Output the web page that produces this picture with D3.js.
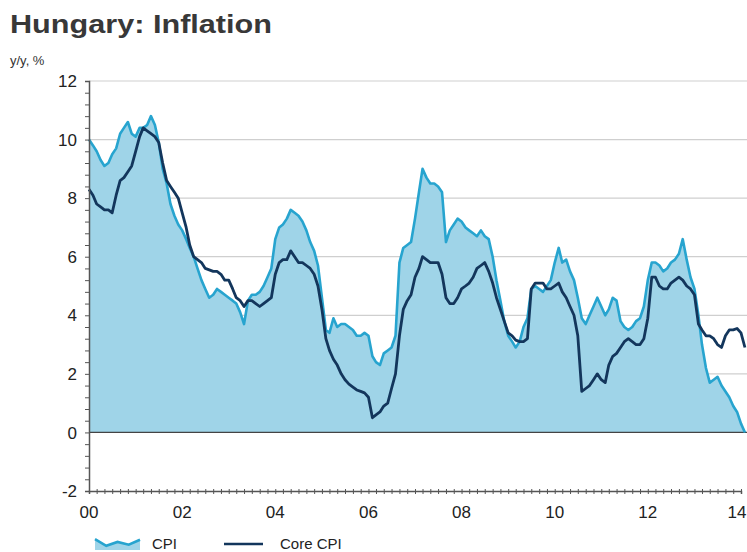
<!DOCTYPE html>
<html>
<head>
<meta charset="utf-8">
<script src="https://cdn.jsdelivr.net/npm/d3@7"></script>
<style>
  html, body { margin: 0; padding: 0; background: #fff; }
  svg { display: block; font-family: "Liberation Sans", Arial, sans-serif; }
</style>
</head>
<body>
<svg id="chart" width="747" height="552"></svg>
<script>
// Monthly year-on-year inflation, Jan 2000 – Feb 2014 (%)
const startYear = 2000;
const cpi = [
  10.0, 9.8, 9.6, 9.3, 9.1, 9.2, 9.5, 9.7, 10.2, 10.4, 10.6, 10.2,   // 2000
  10.1, 10.4, 10.4, 10.5, 10.8, 10.5, 9.9, 9.0, 8.5, 7.8, 7.4, 7.1,   // 2001
  6.9, 6.6, 6.3, 6.0, 5.6, 5.2, 4.9, 4.6, 4.7, 4.9, 4.8, 4.7,         // 2002
  4.6, 4.5, 4.4, 4.1, 3.7, 4.5, 4.7, 4.7, 4.8, 5.0, 5.3, 5.6,         // 2003
  6.6, 7.0, 7.1, 7.3, 7.6, 7.5, 7.4, 7.2, 6.9, 6.5, 6.2, 5.7,         // 2004
  4.6, 3.5, 3.4, 3.9, 3.6, 3.7, 3.7, 3.6, 3.5, 3.3, 3.3, 3.4,         // 2005
  3.3, 2.6, 2.4, 2.3, 2.7, 2.8, 2.9, 3.3, 5.8, 6.3, 6.4, 6.5,         // 2006
  7.3, 8.2, 9.0, 8.7, 8.5, 8.5, 8.4, 8.2, 6.5, 6.9, 7.1, 7.3,         // 2007
  7.2, 7.0, 6.9, 6.8, 6.7, 6.9, 6.7, 6.6, 6.0, 5.2, 4.5, 3.8,         // 2008
  3.3, 3.1, 2.9, 3.1, 3.6, 3.9, 4.9, 5.0, 4.9, 4.8, 5.0, 5.2,         // 2009
  5.8, 6.3, 5.8, 5.9, 5.5, 5.2, 4.6, 3.9, 3.7, 4.0, 4.3, 4.6,         // 2010
  4.3, 4.0, 4.2, 4.6, 4.5, 3.8, 3.6, 3.5, 3.6, 3.8, 3.9, 4.3,         // 2011
  5.2, 5.8, 5.8, 5.7, 5.5, 5.6, 5.8, 5.9, 6.1, 6.6, 5.9, 5.3,         // 2012
  4.9, 4.0, 3.0, 2.2, 1.7, 1.8, 1.9, 1.6, 1.4, 1.2, 0.9, 0.7,         // 2013
  0.3, 0.0                                                            // 2014
];
const coreCpi = [
  8.3, 8.1, 7.8, 7.7, 7.6, 7.6, 7.5, 8.1, 8.6, 8.7, 8.9, 9.1,         // 2000
  9.6, 10.1, 10.4, 10.3, 10.2, 10.1, 9.9, 9.2, 8.6, 8.4, 8.2, 8.0,    // 2001
  7.5, 7.0, 6.4, 6.0, 5.9, 5.8, 5.6, 5.55, 5.5, 5.5, 5.4, 5.2,        // 2002
  5.2, 4.9, 4.6, 4.5, 4.3, 4.5, 4.5, 4.4, 4.3, 4.4, 4.5, 4.6,         // 2003
  5.4, 5.8, 5.9, 5.9, 6.2, 6.0, 5.8, 5.8, 5.7, 5.6, 5.4, 5.0,         // 2004
  4.2, 3.2, 2.8, 2.5, 2.3, 2.0, 1.8, 1.65, 1.55, 1.45, 1.4, 1.35,     // 2005
  1.2, 0.5, 0.6, 0.7, 0.9, 1.0, 1.5, 2.0, 3.3, 4.2, 4.5, 4.7,         // 2006
  5.3, 5.6, 6.0, 5.9, 5.8, 5.8, 5.8, 5.4, 4.6, 4.4, 4.4, 4.6,         // 2007
  4.9, 5.0, 5.1, 5.3, 5.6, 5.7, 5.8, 5.5, 5.1, 4.6, 4.2, 3.8,         // 2008
  3.4, 3.3, 3.15, 3.1, 3.1, 3.2, 4.9, 5.1, 5.1, 5.1, 4.9, 4.9,        // 2009
  5.0, 5.1, 4.8, 4.6, 4.3, 4.0, 3.3, 1.4, 1.5, 1.6, 1.8, 2.0,         // 2010
  1.8, 1.7, 2.3, 2.6, 2.7, 2.9, 3.1, 3.2, 3.1, 3.0, 3.0, 3.2,         // 2011
  3.9, 5.3, 5.3, 5.0, 4.9, 4.9, 5.1, 5.2, 5.3, 5.2, 5.0, 4.9,         // 2012
  4.7, 3.7, 3.5, 3.3, 3.3, 3.2, 3.0, 2.9, 3.3, 3.5, 3.5, 3.55,        // 2013
  3.4, 2.9                                                            // 2014
];
const yTicks = [-2, 0, 2, 4, 6, 8, 10, 12];
const xTickYears = [2000, 2002, 2004, 2006, 2008, 2010, 2012, 2014];
const seriesNames = ["CPI", "Core CPI"];

const colors = {
  fill: "#9fd4e8",
  cpi: "#27a4cf",
  core: "#13365c",
  grid: "#cfcfcf",
  axis: "#555",
  text: "#222"
};

const svg = d3.select("#chart");
const W = 747;

const x = d3.scaleTime()
  .domain([new Date(2000, 0, 1), new Date(2014, 0, 1)])
  .range([89, 741]);
const y = d3.scaleLinear().domain([-2, 12]).range([491, 81]);

const rows = cpi.map((v, i) => ({
  date: new Date(startYear, i, 1),
  cpi: v,
  core: coreCpi[i]
}));

// Title and unit
svg.append("text")
  .attr("x", 10).attr("y", 33)
  .attr("font-size", 25).attr("font-weight", "bold")
  .attr("fill", "#383838")
  .attr("textLength", 262).attr("lengthAdjust", "spacingAndGlyphs")
  .text("Hungary: Inflation");
svg.append("text")
  .attr("x", 10).attr("y", 65)
  .attr("font-size", 13).attr("fill", "#333")
  .text("y/y, %");

// Horizontal grid
svg.append("g").selectAll("line")
  .data(yTicks.filter(t => t !== -2 && t !== 0))
  .join("line")
  .attr("x1", 89).attr("x2", W)
  .attr("y1", d => y(d)).attr("y2", d => y(d))
  .attr("stroke", colors.grid).attr("stroke-width", 1.2);

// CPI area down to zero
const area = d3.area()
  .x(d => x(d.date))
  .y0(y(0))
  .y1(d => y(d.cpi));
svg.append("path").datum(rows)
  .attr("d", area)
  .attr("fill", colors.fill);

// Zero line
svg.append("line")
  .attr("x1", 89).attr("x2", W)
  .attr("y1", y(0)).attr("y2", y(0))
  .attr("stroke", "#444").attr("stroke-width", 1.3);

const lineCpi = d3.line().x(d => x(d.date)).y(d => y(d.cpi));
const lineCore = d3.line().x(d => x(d.date)).y(d => y(d.core));

svg.append("path").datum(rows)
  .attr("d", lineCpi)
  .attr("fill", "none").attr("stroke", colors.cpi)
  .attr("stroke-width", 2.6).attr("stroke-linejoin", "round");
svg.append("path").datum(rows)
  .attr("d", lineCore)
  .attr("fill", "none").attr("stroke", colors.core)
  .attr("stroke-width", 2.8).attr("stroke-linejoin", "round");

// Left axis with minor ticks
const yMinor = d3.range(-2, 12.001, 0.4);
const yAxis = d3.axisLeft(y)
  .tickValues(yMinor)
  .tickSize(4)
  .tickFormat("");
const gy = svg.append("g").attr("transform", "translate(89,0)").call(yAxis);
gy.select(".domain").attr("stroke", colors.axis).attr("stroke-width", 1.5);
gy.selectAll(".tick line").attr("stroke", colors.axis);

svg.append("g").selectAll("text")
  .data(yTicks)
  .join("text")
  .attr("x", 77).attr("y", d => y(d))
  .attr("dy", "0.36em")
  .attr("text-anchor", "end")
  .attr("font-size", 17).attr("fill", colors.text)
  .text(d => d);

// Bottom axis: minor ticks every two months, labelled every two years
const xMinor = d3.timeMonth.every(2).range(new Date(2000, 0, 1), new Date(2014, 3, 1));
const xAxis = d3.axisBottom(x)
  .tickValues(xMinor)
  .tickSize(3)
  .tickFormat("");
const gx = svg.append("g").attr("transform", `translate(0,${y(-2)})`).call(xAxis);
gx.select(".domain").attr("stroke", colors.axis).attr("stroke-width", 1.5);
gx.selectAll(".tick line").attr("stroke", colors.axis).attr("y1", -2);

svg.append("g").selectAll("text")
  .data(xTickYears)
  .join("text")
  .attr("x", d => Math.min(x(new Date(d, 0, 1)), W - 10))
  .attr("y", 518)
  .attr("text-anchor", "middle")
  .attr("font-size", 17).attr("fill", colors.text)
  .text(d => String(d % 100).padStart(2, "0"));

// Legend
const lg = svg.append("g");
const swX = d3.scaleLinear().domain([0, 4]).range([95, 140]);
const swY = d3.scaleLinear().domain([0, 1]).range([548, 537]);
const swatch = [0.8, 0.2, 0.55, 0.3, 0.75];
lg.append("path").datum(swatch)
  .attr("d", d3.area().x((d, i) => swX(i)).y0(550).y1(d => swY(d)))
  .attr("fill", colors.fill);
lg.append("path").datum(swatch)
  .attr("d", d3.line().x((d, i) => swX(i)).y(d => swY(d)))
  .attr("fill", "none").attr("stroke", colors.cpi).attr("stroke-width", 2.6);
lg.append("text").attr("x", 152).attr("y", 549)
  .attr("font-size", 15).attr("fill", colors.text).text(seriesNames[0]);
lg.append("line")
  .attr("x1", 224).attr("x2", 263).attr("y1", 544).attr("y2", 544)
  .attr("stroke", colors.core).attr("stroke-width", 2.6);
lg.append("text").attr("x", 280).attr("y", 549)
  .attr("font-size", 15).attr("fill", colors.text).text(seriesNames[1]);
</script>
</body>
</html>
